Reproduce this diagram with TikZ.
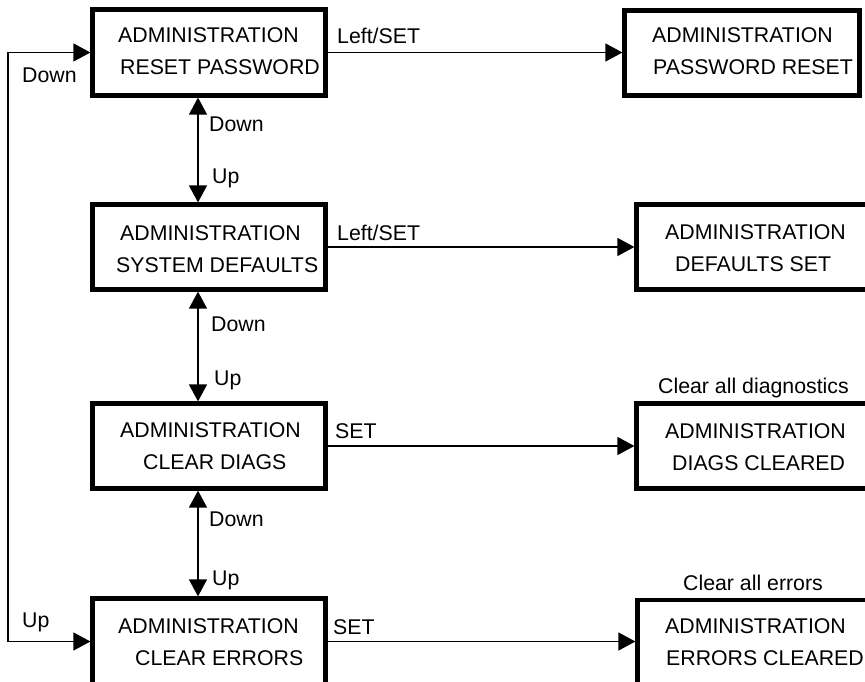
\documentclass[tikz,border=0pt]{standalone}
\usepackage{fontspec}
\setmainfont{Liberation Sans}
\usetikzlibrary{arrows.meta}
\tikzset{
  menubox/.style={draw, line width=4.2pt, inner sep=0pt, minimum width=233pt, minimum height=85pt},
  txt/.style={inner sep=0pt, anchor=base west, font=\fontsize{21.3}{25}\selectfont},
  link/.style={line width=1.3pt, -{Triangle[length=17pt,width=18pt]}},
  both/.style={line width=1.3pt, {Triangle[length=17pt,width=18pt]}-{Triangle[length=17pt,width=18pt]}}
}
\begin{document}
\begin{tikzpicture}[x=1pt,y=-1pt]
\useasboundingbox (0,0) rectangle (865,682);
\clip (0,0) rectangle (865,682);
\fill[white] (0,0) rectangle (865,682);

% left column: menu entries
\node[menubox, minimum height=86pt] (m1) at (209,52.5) {};
\node[menubox] (m2) at (209,247) {};
\node[menubox] (m3) at (209,446) {};
\node[menubox, minimum height=86pt] (m4) at (209,641.5) {};

% right column: confirmation screens
\node[menubox, minimum width=235pt] (r1) at (742,53) {};
\node[menubox] (r2) at (753,247) {};
\node[menubox] (r3) at (753,446) {};
\node[menubox] (r4) at (754,642.5) {};

% box texts
\node[txt] (m1a) at (118,43) {ADMINISTRATION};
\node[txt] (m1b) at (120,75) {RESET PASSWORD};
\node[txt] (m2a) at (120,240) {ADMINISTRATION};
\node[txt] (m2b) at (116,272) {SYSTEM DEFAULTS};
\node[txt] (m3a) at (120,437) {ADMINISTRATION};
\node[txt] (m3b) at (143,469) {CLEAR DIAGS};
\node[txt] (m4a) at (118,633) {ADMINISTRATION};
\node[txt] (m4b) at (135,665) {CLEAR ERRORS};

\node[txt] (r1a) at (652,43) {ADMINISTRATION};
\node[txt] (r1b) at (653,75) {PASSWORD RESET};
\node[txt] (r2a) at (665,239) {ADMINISTRATION};
\node[txt] (r2b) at (675,271) {DEFAULTS SET};
\node[txt] (r3a) at (665,438) {ADMINISTRATION};
\node[txt] (r3b) at (672,470) {DIAGS CLEARED};
\node[txt] (r4a) at (665,633) {ADMINISTRATION};
\node[txt] (r4b) at (666,665) {ERRORS CLEARED};

\node[txt] (n3) at (658,393) {Clear all diagnostics};
\node[txt] (n4) at (683,590) {Clear all errors};

% horizontal transitions
\draw[link] (m1.east) -- (m1.east -| r1.west);
\draw[link] (m2.east) -- (m2.east -| r2.west);
\draw[link] (m3.east) -- (m3.east -| r3.west);
\draw[link] (m4.east) -- (m4.east -| r4.west);
\node[txt] (h1) at (337,44) {Left/SET};
\node[txt] (h2) at (337,240) {Left/SET};
\node[txt] (h3) at (335,438) {SET};
\node[txt] (h4) at (333,634) {SET};

% vertical Up/Down transitions
\coordinate (vx) at (198,0);
\draw[both] (m1.south -| vx) -- (m2.north -| vx);
\draw[both] (m2.south -| vx) -- (m3.north -| vx);
\draw[both] (m3.south -| vx) -- (m4.north -| vx);
\node[txt] (d1) at (209,132) {Down};
\node[txt] (u1) at (212,183) {Up};
\node[txt] (d2) at (211,331) {Down};
\node[txt] (u2) at (214,385) {Up};
\node[txt] (d3) at (209,526) {Down};
\node[txt] (u3) at (212,585) {Up};

% wrap-around between first and last entry
\coordinate (lx) at (8,0);
\draw[both] (m1.west) -- (m1.west -| lx) -- (m4.west -| lx) -- (m4.west);
\node[txt] (dl) at (22,83) {Down};
\node[txt] (ul) at (22,627) {Up};
\end{tikzpicture}
\end{document}
